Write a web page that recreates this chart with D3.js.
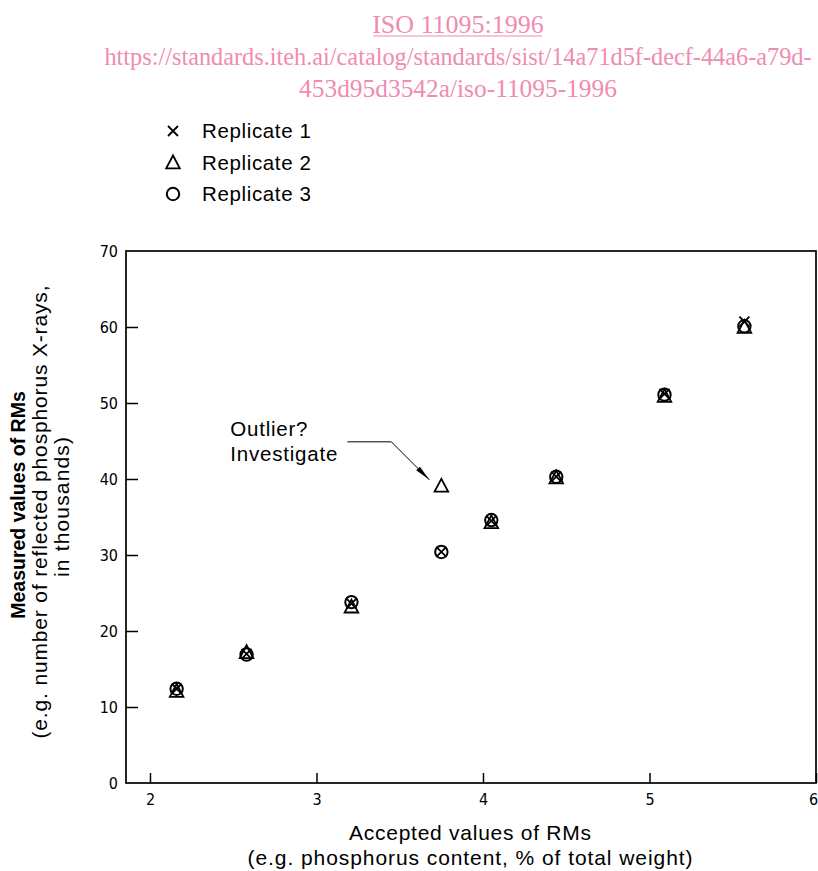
<!DOCTYPE html>
<html>
  <head>
    <meta charset="UTF-8" />
    <title>ISO 11095 replicates</title>
    <script src="https://d3js.org/d3.v7.min.js"></script>
    <style>
      body {
        margin: 0;
        background: #fff;
      }
      svg {
        display: block;
      }
      .hdr {
        font-family: "Liberation Serif", "DejaVu Serif", serif;
        fill: #f08cb0;
        text-anchor: middle;
      }
      .lbl {
        font-family: "Liberation Sans", Arial, sans-serif;
        fill: #000;
      }
      .tick text {
        font-family: "DejaVu Sans Condensed", "Liberation Sans Narrow", sans-serif;
        font-size: 16px;
        fill: #000;
      }
    </style>
  </head>
  <body>
    <div id="chart"></div>
    <script>
      // accepted values (x) and the three replicate measurements (thousands)
      const accepted = [2.16, 2.58, 3.21, 3.75, 4.05, 4.44, 5.09, 5.57];
      const replicate1 = [12.4, 17.0, 23.6, 30.4, 34.5, 40.3, 51.2, 60.7];
      const replicate2 = [12.1, 17.2, 23.2, 39.1, 34.3, 40.2, 50.9, 60.0];
      const replicate3 = [12.4, 16.9, 23.8, 30.4, 34.6, 40.3, 51.1, 60.1];

      const xTicks = [2, 3, 4, 5, 6];
      const yTicks = [0, 10, 20, 30, 40, 50, 60, 70];
      const legendLabels = ["Replicate 1", "Replicate 2", "Replicate 3"];

      const width = 818;
      const height = 871;
      const plotLeft = 126, plotRight = 816, plotTop = 251, plotBottom = 783;

      const svg = d3
        .select("#chart")
        .append("svg")
        .attr("width", width)
        .attr("height", height);

      // header (watermark link)
      const hdr = svg.append("g").attr("class", "hdr");
      hdr
        .append("text")
        .attr("x", 458)
        .attr("y", 33)
        .attr("font-size", 26)
        .text("ISO 11095:1996");
      hdr
        .append("line")
        .attr("x1", 373)
        .attr("x2", 542)
        .attr("y1", 36)
        .attr("y2", 36)
        .attr("stroke", "#f08cb0")
        .attr("stroke-width", 1.2);
      hdr
        .append("text")
        .attr("x", 458)
        .attr("y", 65)
        .attr("font-size", 24.3)
        .text("https://standards.iteh.ai/catalog/standards/sist/14a71d5f-decf-44a6-a79d-");
      hdr
        .append("text")
        .attr("x", 458)
        .attr("y", 97)
        .attr("font-size", 25.4)
        .text("453d95d3542a/iso-11095-1996");

      const x = d3.scaleLinear().domain([1.856, 6]).range([plotLeft, plotRight]);
      const y = d3.scaleLinear().domain([0, 70]).range([plotBottom, plotTop]);

      // symbols
      const symbols = {
        cross: (g) =>
          g
            .append("path")
            .attr("d", "M-5,-5L5,5M-5,5L5,-5")
            .attr("stroke", "#000")
            .attr("stroke-width", 1.8)
            .attr("fill", "none"),
        triangle: (g) =>
          g
            .append("path")
            .attr("d", "M0,-7L6.8,5.8L-6.8,5.8Z")
            .attr("stroke", "#000")
            .attr("stroke-width", 1.8)
            .attr("fill", "none"),
        circle: (g) =>
          g
            .append("circle")
            .attr("r", 6.2)
            .attr("stroke", "#000")
            .attr("stroke-width", 2)
            .attr("fill", "none"),
      };
      const symbolKeys = ["cross", "triangle", "circle"];

      // legend
      legendLabels.forEach((name, i) => {
        const g = svg.append("g").attr("transform", `translate(173,${131 + i * 31.5})`);
        symbols[symbolKeys[i]](g);
        svg
          .append("text")
          .attr("class", "lbl")
          .attr("x", 202)
          .attr("y", 131 + i * 31.5)
          .attr("dy", "0.36em")
          .attr("font-size", 20.5)
          .attr("textLength", 109)
          .attr("lengthAdjust", "spacing")
          .text(name);
      });

      // frame
      svg
        .append("rect")
        .attr("x", plotLeft)
        .attr("y", plotTop)
        .attr("width", plotRight - plotLeft)
        .attr("height", plotBottom - plotTop)
        .attr("fill", "none")
        .attr("stroke", "#000")
        .attr("stroke-width", 1.7);

      const xAxis = svg
        .append("g")
        .attr("transform", `translate(0,${plotBottom})`)
        .call(d3.axisTop(x).tickValues(xTicks).tickSize(10).tickFormat(d3.format("d")));
      xAxis.select(".domain").remove();
      xAxis.selectAll(".tick line").attr("stroke-width", 1.5);
      xAxis
        .selectAll(".tick text")
        .attr("y", 11)
        .attr("dy", "0.71em")
        .attr("dx", (d) => (d === 6 ? -3 : 0));

      const yAxis = svg
        .append("g")
        .attr("transform", `translate(${plotLeft},0)`)
        .call(d3.axisRight(y).tickValues(yTicks).tickSize(12).tickFormat(d3.format("d")));
      yAxis.select(".domain").remove();
      yAxis.selectAll(".tick line").attr("stroke-width", 1.5);
      yAxis.selectAll(".tick line").filter((d) => d === 0 || d === 70).remove();
      yAxis
        .selectAll(".tick text")
        .attr("x", -8)
        .attr("text-anchor", "end");

      // data points
      const series = [replicate1, replicate2, replicate3];
      series.forEach((vals, si) => {
        accepted.forEach((a, i) => {
          const g = svg.append("g").attr("transform", `translate(${x(a)},${y(vals[i])})`);
          symbols[symbolKeys[si]](g);
        });
      });

      // outlier annotation
      const ox = x(accepted[3]);
      const oy = y(replicate2[3]);
      const tipX = ox - 12, tipY = oy - 6;
      svg
        .append("path")
        .attr("d", `M${ox - 94},${oy - 44}L${ox - 50},${oy - 44}L${tipX},${tipY}`)
        .attr("fill", "none")
        .attr("stroke", "#000")
        .attr("stroke-width", 1);
      const ang = Math.atan2(tipY - (oy - 44), tipX - (ox - 50));
      const hl = 16, hw = 2.6;
      const bx = tipX - hl * Math.cos(ang), by = tipY - hl * Math.sin(ang);
      svg
        .append("path")
        .attr(
          "d",
          `M${tipX},${tipY}L${bx - hw * Math.sin(ang)},${by + hw * Math.cos(ang)}L${bx + hw * Math.sin(ang)},${by - hw * Math.cos(ang)}Z`
        )
        .attr("fill", "#000");
      const note = svg.append("g").attr("class", "lbl").attr("font-size", 20.5);
      note
        .append("text")
        .attr("x", ox - 211)
        .attr("y", oy - 50)
        .attr("textLength", 77)
        .attr("lengthAdjust", "spacing")
        .text("Outlier?");
      note
        .append("text")
        .attr("x", ox - 211)
        .attr("y", oy - 25)
        .attr("textLength", 107)
        .attr("lengthAdjust", "spacing")
        .text("Investigate");

      // axis titles
      const xt = svg
        .append("g")
        .attr("class", "lbl")
        .attr("font-size", 21)
        .attr("text-anchor", "middle");
      xt.append("text")
        .attr("x", 470)
        .attr("y", 840)
        .attr("textLength", 242)
        .attr("lengthAdjust", "spacing")
        .text("Accepted values of RMs");
      xt.append("text")
        .attr("x", 470)
        .attr("y", 865)
        .attr("textLength", 445)
        .attr("lengthAdjust", "spacing")
        .text("(e.g. phosphorus content, % of total weight)");

      const yt = svg
        .append("g")
        .attr("class", "lbl")
        .attr("text-anchor", "middle")
        .attr("transform", "translate(0,510) rotate(-90)");
      yt.append("text")
        .attr("x", 5)
        .attr("y", 25)
        .attr("font-size", 19.5)
        .attr("font-weight", "bold")
        .text("Measured values of RMs");
      yt.append("text")
        .attr("x", -2)
        .attr("y", 47)
        .attr("font-size", 21)
        .attr("textLength", 453)
        .attr("lengthAdjust", "spacing")
        .text("(e.g. number of reflected phosphorus X-rays,");
      yt.append("text")
        .attr("x", 3)
        .attr("y", 69)
        .attr("font-size", 21)
        .attr("textLength", 140)
        .attr("lengthAdjust", "spacing")
        .text("in thousands)");
    </script>
  </body>
</html>
